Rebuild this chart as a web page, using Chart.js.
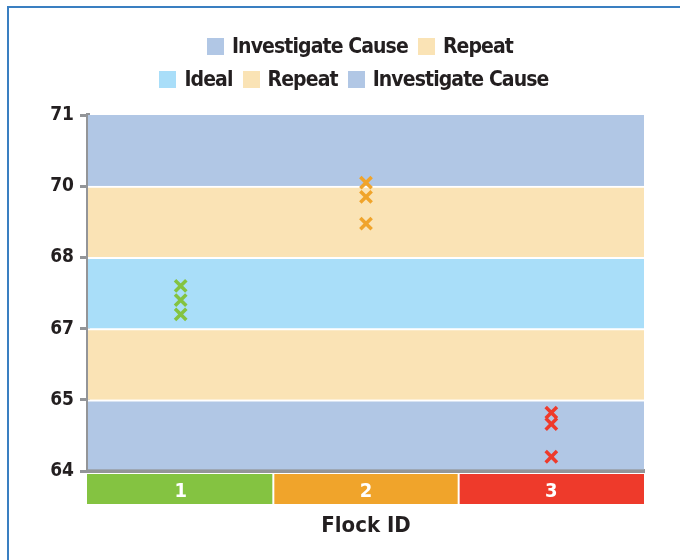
<!DOCTYPE html>
<html><head><meta charset="utf-8">
<script src="https://cdn.jsdelivr.net/npm/chart.js@4"></script>
<style>
html,body{margin:0;padding:0;background:#fff;}
#wrap{position:relative;width:680px;height:560px;overflow:hidden;background:#fff;}
#frame{position:absolute;left:7px;top:6px;width:800px;height:800px;border-top:2px solid #3A7FC1;border-left:2px solid #3A7FC1;}
canvas{position:absolute;left:0;top:0;}
.legrow{position:absolute;left:0;display:flex;justify-content:center;font:bold 21px 'DejaVu Sans Condensed',sans-serif;letter-spacing:-0.9px;color:#231F20;white-space:nowrap;line-height:26px;}
.item{display:flex;align-items:center;margin:0 5px;}
.sw{width:17px;height:17px;margin-right:8px;}
</style></head>
<body>
<div id="wrap">
  <div id="frame"></div>
  <canvas id="c" width="680" height="560"></canvas>
  <div class="legrow" id="row1" style="top:33px;width:720px;"></div>
  <div class="legrow" id="row2" style="top:66px;width:708px;"></div>
</div>
<script>
const FONT = "'DejaVu Sans Condensed',sans-serif";
const categories = ['1','2','3'];
const tickValues = [64, 65, 67, 68, 70, 71];
// bands from bottom to top
const bandLabels = ['Investigate Cause','Repeat','Ideal','Repeat','Investigate Cause'];
const bandColors = ['#B1C7E5','#FAE3B5','#A9DEF9','#FAE3B5','#B1C7E5'];
const flockColors = ['#84C341','#F0A42B','#EE3A2B'];
const flock1 = [67.2, 67.4, 67.6];
const flock2 = [68.95, 69.7, 70.05];
const flock3 = [64.2, 64.66, 64.82];
const flocks = [flock1, flock2, flock3];

// piecewise mapping of a value onto the evenly spaced tick positions
function toAxis(v){
  for(let i=0;i<tickValues.length-1;i++){
    const a=tickValues[i], b=tickValues[i+1];
    if(v<=b || i===tickValues.length-2){
      return i + (v-a)/(b-a);
    }
  }
}

// HTML legend: bands listed top to bottom, 2 in first row, 3 in second
const order = bandLabels.map((l,i)=>i).reverse();
function addItem(row, idx){
  const it=document.createElement('div'); it.className='item';
  const sw=document.createElement('div'); sw.className='sw'; sw.style.background=bandColors[idx];
  const tx=document.createElement('span'); tx.textContent=bandLabels[idx];
  it.appendChild(sw); it.appendChild(tx); row.appendChild(it);
}
order.slice(0,2).forEach(i=>addItem(document.getElementById('row1'),i));
order.slice(2).forEach(i=>addItem(document.getElementById('row2'),i));

const datasets = [];
flocks.forEach((vals,k)=>{
  datasets.push({
    type:'scatter',
    label:'Flock '+categories[k],
    data: vals.map(v=>({x:categories[k], y:toAxis(v)})),
    pointStyle:'crossRot',
    pointRadius:8,
    pointBorderWidth:3.5,
    borderColor:flockColors[k],
    backgroundColor:flockColors[k],
    showLine:false,
    order:0
  });
});
bandLabels.forEach((lab,i)=>{
  datasets.push({
    type:'bar',
    label:lab,
    xAxisID:'xb',
    data: [[i, i+1]],
    backgroundColor:bandColors[i],
    borderColor:'#ffffff',
    borderWidth: i<bandLabels.length-1 ? {top:2,bottom:0,left:0,right:0} : 0,
    borderSkipped:false,
    barPercentage:1,
    categoryPercentage:1,
    grouped:false,
    order:1
  });
});

const catBoxes = {
  id:'catBoxes',
  beforeDraw(chart){
    const {ctx, chartArea} = chart;
    const x = chart.scales.x;
    const half = (x.getPixelForValue(1)-x.getPixelForValue(0))/2;
    ctx.save();
    categories.forEach((c,i)=>{
      const cx = x.getPixelForValue(i);
      const l = cx-half + (i>0?1:-1);
      const r = cx+half - (i<categories.length-1?1:0);
      ctx.fillStyle = flockColors[i];
      ctx.fillRect(l, chartArea.bottom+3, r-l, 30);
    });
    ctx.restore();
  }
};

new Chart(document.getElementById('c'), {
  type:'bar',
  data:{labels:categories, datasets},
  plugins:[catBoxes],
  options:{
    responsive:false,
    animation:false,
    events:[],
    layout:{padding:{top:115,right:36,left:0,bottom:0}},
    plugins:{legend:{display:false},tooltip:{enabled:false},title:{display:false}},
    scales:{
      x:{
        type:'category',
        labels:categories,
        offset:true,
        afterFit(s){ s.height = 89; },
        grid:{display:false, drawTicks:false},
        border:{display:true,color:'#939598',width:4},
        ticks:{color:'#ffffff',font:{size:20,weight:'bold',family:FONT},padding:9},
        title:{display:true,text:'Flock ID',color:'#231F20',font:{size:22,weight:'bold',family:FONT},padding:{top:0,bottom:21}}
      },
      xb:{
        type:'category',
        labels:['band'],
        offset:true,
        display:false
      },
      y:{
        type:'linear',
        min:0,max:tickValues.length-1,
        afterFit(s){ s.width = 88; },
        ticks:{stepSize:1,callback:(v)=>tickValues[v],color:'#231F20',font:{size:19,weight:'bold',family:FONT},padding:6},
        grid:{drawOnChartArea:false,drawTicks:true,tickLength:8,color:'#939598',lineWidth:3},
        border:{display:true,color:'#939598',width:4}
      }
    }
  }
});
</script>
</body></html>
